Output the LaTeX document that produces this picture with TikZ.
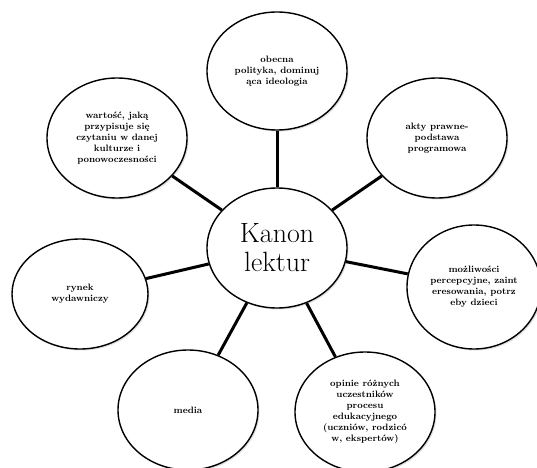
\documentclass[tikz,border=0pt]{standalone}
\usepackage{fontspec}
\usetikzlibrary{shapes.geometric, shadows}

\begin{document}
\begin{tikzpicture}[x=1bp, y=-1bp,
  every node/.style={font=\fontsize{9.3}{11}\selectfont\bfseries, align=center},
  topic/.style={ellipse, draw, line width=1.4bp, fill=white, inner sep=0pt,
    minimum width=140bp, minimum height=120bp,
    drop shadow={opacity=0.25, shadow xshift=1.5bp, shadow yshift=-1.5bp}},
  link/.style={line width=3bp}]

\useasboundingbox (0,0) rectangle (537,468);

% centre
\node[topic, font=\fontsize{28}{29}\selectfont] (kanon) at (277,248) {Kanon\\lektur};

% outer topics
\node[topic, minimum height=118bp] (polityka) at (277,71) {obecna\\polityka, dominuj\\ąca ideologia};
\node[topic] (wartosc) at (117,138) {wartość, jaką\\przypisuje się\\czytaniu w danej\\kulturze i\\ponowoczesności};
\node[topic] (akty) at (437,138) {akty prawne-\\podstawa\\programowa};
\node[topic, minimum width=136bp, minimum height=110bp] (rynek) at (80,294) {rynek\\wydawniczy};
\node[topic, minimum width=134bp, minimum height=124bp] (dzieci) at (474,287) {możliwości\\percepcyjne, zaint\\eresowania, potrz\\eby dzieci};
\node[topic] (media) at (188,410) {media};
\node[topic] (opinie) at (365,412) {opinie różnych\\uczestników\\procesu\\edukacyjnego\\(uczniów, rodzicó\\w, ekspertów)};

% spokes
\draw[link] (kanon) -- (polityka);
\draw[link] (kanon) -- (wartosc);
\draw[link] (kanon) -- (akty);
\draw[link] (kanon) -- (rynek);
\draw[link] (kanon) -- (dzieci);
\draw[link] (kanon) -- (media);
\draw[link] (kanon) -- (opinie);

\end{tikzpicture}
\end{document}
